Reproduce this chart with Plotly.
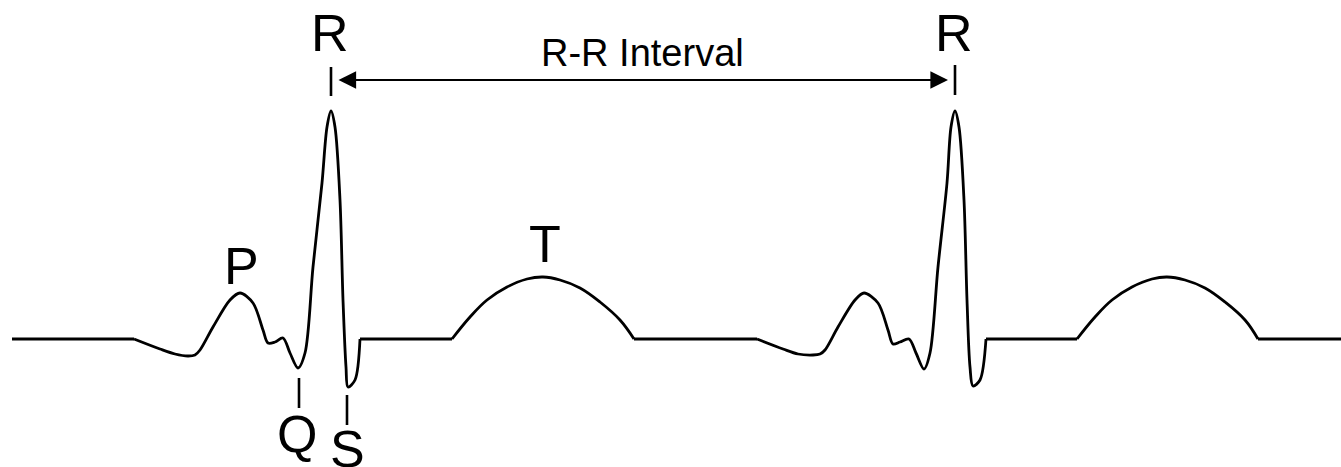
import plotly.graph_objects as go

# ---- Waveform data (x in horizontal units, y in vertical units; y grows downward) ----
baseline_y = 339

# straight isoelectric segments (start, end)
baseline_x_start = [12, 360, 634, 986, 1258]
baseline_x_end = [134, 452, 757, 1077, 1341]

# beat 1: P wave, Q, R, S
beat1_x = [134, 160, 175, 188, 195, 200, 213, 230, 240, 253, 263, 268, 275, 283, 290, 298,
           305, 313, 322, 327, 331, 335, 340, 343, 346, 348, 355, 360]
beat1_y = [339, 349, 354, 356, 355, 350, 327, 300, 293, 303, 330, 343, 342, 338, 353, 368,
           353, 267, 183, 127, 111, 127, 200, 300, 367, 387, 380, 339]

# beat 2: P wave, Q, R, S
beat2_x = [757, 783, 798, 813, 820, 825, 838, 855, 864, 878, 888, 893, 900, 909, 916, 924,
           930, 938, 947, 951, 955, 959, 964, 967, 970, 973, 980, 986]
beat2_y = [339, 349, 354, 355, 354, 350, 327, 300, 293, 303, 330, 344, 342, 339, 353, 369,
           353, 267, 183, 127, 111, 127, 200, 300, 367, 386, 380, 339]

# T waves
t1_x = [452, 470, 487, 507, 527, 543, 560, 580, 600, 620, 634]
t1_y = [339, 317, 300, 287, 279, 277, 280, 288, 302, 320, 339]
t2_x = [1077, 1095, 1112, 1132, 1152, 1167, 1185, 1205, 1225, 1245, 1258]
t2_y = [339, 317, 300, 287, 279, 277, 280, 288, 302, 320, 339]

# ---- Labels ----
wave_labels = ["R", "R", "P", "T", "Q", "S"]
wave_label_x = [330, 954, 241, 545, 297, 347]
wave_label_y = [33, 33, 266, 244, 434, 449]

# marker ticks (x, y_top, y_bottom)
tick_x = [331, 955, 299, 347]
tick_top = [67, 65, 378, 395]
tick_bottom = [96, 95, 408, 425]

interval_label = "R-R Interval"
interval_start_x = 337
interval_end_x = 948
interval_y = 80

LINE = dict(color="black", width=2.8)
FONT = "Liberation Sans, Arial, Helvetica, sans-serif"

fig = go.Figure()

# baseline segments
bx, by = [], []
for s, e in zip(baseline_x_start, baseline_x_end):
    bx += [s, e, None]
    by += [baseline_y, baseline_y, None]
fig.add_trace(go.Scatter(x=bx, y=by, mode="lines", line=LINE, hoverinfo="skip"))

for xs, ys, sm in [(beat1_x, beat1_y, 0.9), (beat2_x, beat2_y, 0.9),
                   (t1_x, t1_y, 1.1), (t2_x, t2_y, 1.1)]:
    fig.add_trace(go.Scatter(x=xs, y=ys, mode="lines",
                             line=dict(color="black", width=2.8, shape="spline", smoothing=sm),
                             hoverinfo="skip"))

# label ticks
tx, ty = [], []
for x, t, b in zip(tick_x, tick_top, tick_bottom):
    tx += [x, x, None]
    ty += [t, b, None]
fig.add_trace(go.Scatter(x=tx, y=ty, mode="lines", line=dict(color="black", width=2.6),
                         hoverinfo="skip"))

# wave letters
for lab, x, y in zip(wave_labels, wave_label_x, wave_label_y):
    fig.add_annotation(x=x, y=y, xref="x", yref="y", text=lab, showarrow=False,
                       xanchor="center", yanchor="middle",
                       font=dict(family=FONT, size=52, color="black"))

# R-R interval arrow
fig.add_annotation(x=interval_end_x, y=interval_y, ax=interval_start_x, ay=interval_y,
                   xref="x", yref="y", axref="x", ayref="y", text="",
                   showarrow=True, arrowhead=2, arrowside="end+start",
                   arrowsize=1.6, arrowwidth=2.2, arrowcolor="black")
fig.add_annotation(x=(interval_start_x + interval_end_x) / 2, y=53, xref="x", yref="y",
                   text=interval_label, showarrow=False, xanchor="center", yanchor="middle",
                   font=dict(family=FONT, size=38, color="black"))

fig.update_layout(
    width=1341, height=467, autosize=False,
    margin=dict(l=0, r=0, t=0, b=0),
    paper_bgcolor="white", plot_bgcolor="white",
    showlegend=False,
    xaxis=dict(range=[0, 1341], visible=False, fixedrange=True),
    yaxis=dict(range=[467, 0], visible=False, fixedrange=True),
)

fig.write_html("out.html", config={"displayModeBar": False},
               post_script="document.body.style.margin='0';")
